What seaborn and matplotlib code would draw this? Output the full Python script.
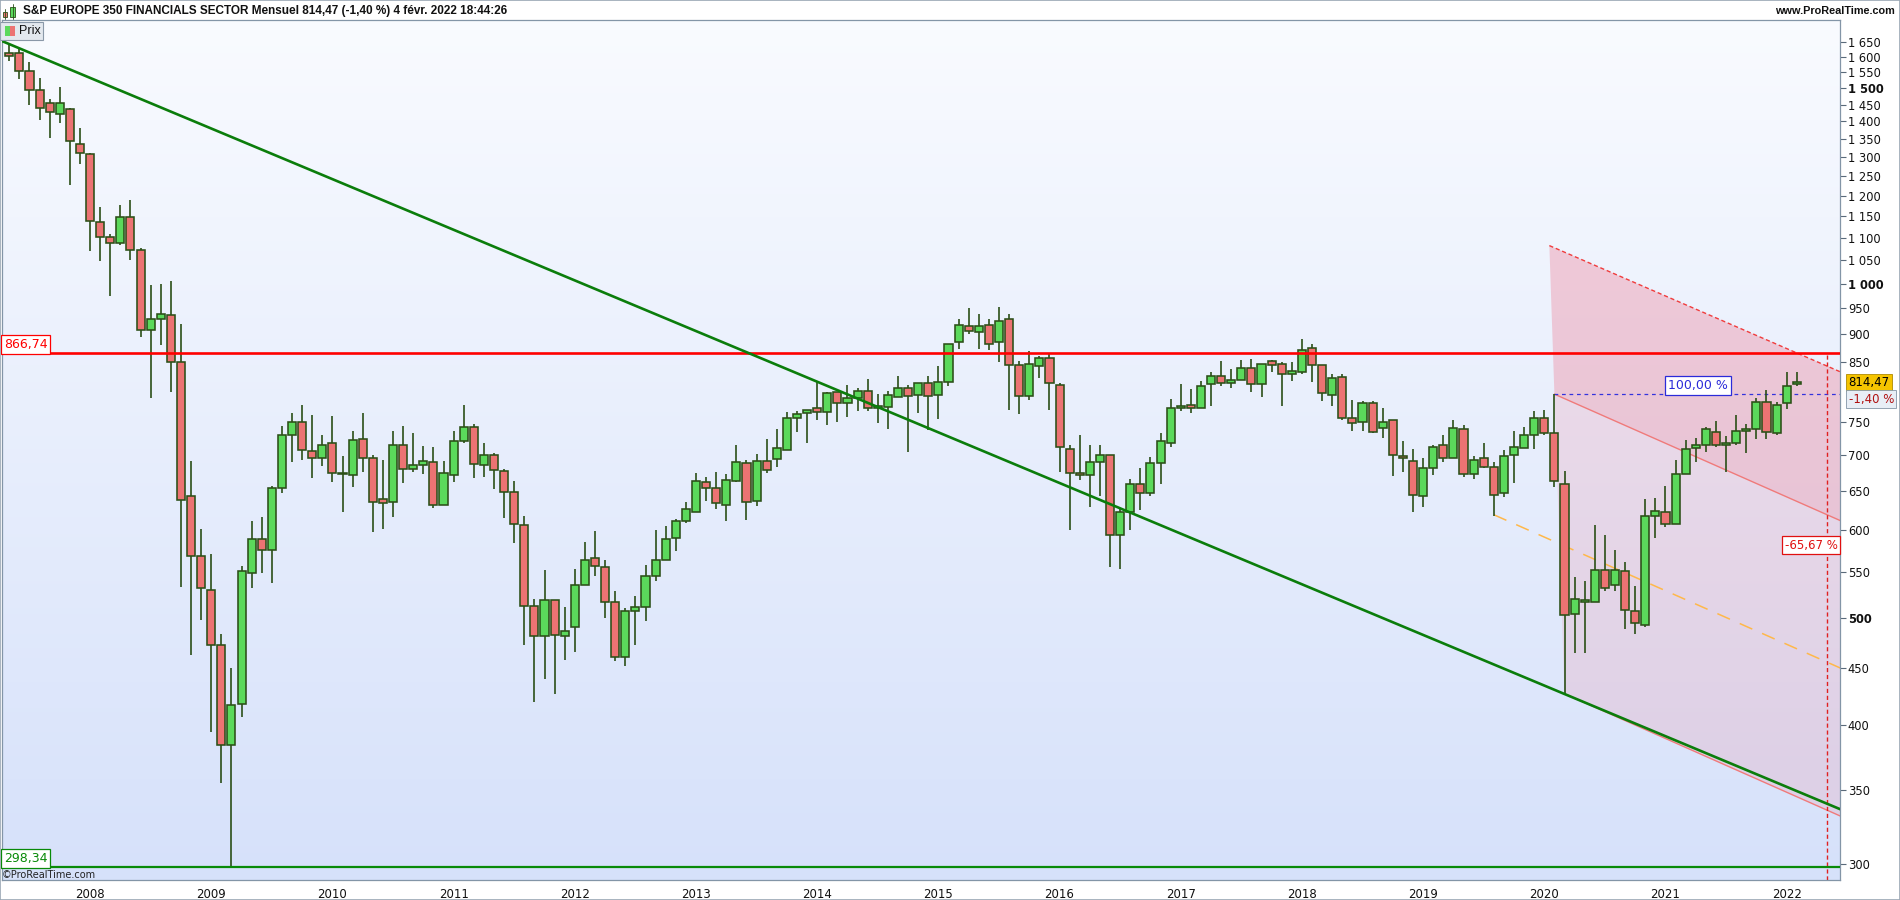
import numpy as np
import pandas as pd
import matplotlib
matplotlib.use("Agg")
import matplotlib.pyplot as plt
import matplotlib.ticker as mticker
import matplotlib.transforms as mtransforms
from matplotlib.patches import Rectangle
import seaborn as sns

# ── Data: monthly candles, May 2007 → Feb 2022 ─────────────────────────────
opens = [1612, 1612, 1556, 1495, 1454, 1421, 1438, 1337,
         1309, 1137, 1102, 1088, 1147, 1072, 909, 929, 936, 849, 643, 568,
         530, 472, 384, 418, 549, 589, 575, 654, 730, 750, 706, 696,
         719, 674, 672, 725, 697, 639, 636, 716, 681, 686, 691, 631,
         672, 721, 742, 686, 701, 678, 649, 606, 512, 481, 519, 481,
         490, 535, 566, 555, 517, 461, 507, 511, 545, 564, 590, 611,
         622, 662, 654, 632, 664, 689, 637, 692, 695, 708, 756, 764,
         772, 766, 799, 781, 788, 801, 772, 774, 790, 805, 794, 813,
         794, 816, 886, 915, 904, 917, 885, 930, 844, 792, 842, 857,
         810, 710, 675, 672, 691, 701, 594, 623, 660, 648, 689, 719,
         773, 778, 772, 812, 825, 813, 819, 839, 812, 851, 846, 829,
         832, 875, 845, 794, 824, 757, 751, 781, 741, 753, 699, 692,
         644, 682, 715, 696, 739, 673, 697, 684, 648, 701, 711, 730,
         757, 733, 660, 504, 517, 516, 552, 535, 551, 507, 492, 618,
         623, 607, 674, 711, 716, 735, 716, 719, 737, 740, 782, 733,
         781, 812]
highs = [1640, 1627, 1583, 1531, 1468, 1503, 1440, 1380,
         1312, 1173, 1108, 1177, 1190, 1076, 997, 999, 1006, 920, 692, 601,
         570, 483, 450, 556, 611, 616, 657, 744, 764, 777, 762, 730,
         759, 699, 737, 765, 701, 694, 737, 744, 734, 714, 712, 692,
         736, 777, 748, 719, 704, 681, 664, 617, 520, 552, 519, 511,
         553, 585, 598, 563, 528, 510, 523, 558, 600, 605, 614, 636,
         675, 670, 677, 673, 715, 694, 702, 724, 739, 766, 767, 769,
         815, 799, 799, 810, 805, 820, 795, 801, 825, 810, 813, 825,
         843, 883, 930, 950, 939, 930, 953, 939, 852, 869, 860, 864,
         813, 716, 731, 716, 715, 701, 628, 666, 682, 698, 734, 787,
         812, 804, 817, 833, 852, 838, 854, 856, 847, 854, 849, 849,
         892, 882, 845, 829, 829, 785, 783, 783, 772, 753, 721, 709,
         697, 716, 731, 754, 746, 699, 719, 691, 708, 736, 743, 767,
         769, 795, 678, 544, 540, 606, 594, 575, 561, 534, 640, 641,
         657, 694, 723, 726, 743, 752, 729, 761, 748, 788, 802, 782,
         833, 833]
lows = [1588, 1528, 1449, 1404, 1352, 1396, 1226, 1281,
        1069, 1048, 974, 1084, 1050, 895, 789, 880, 799, 533, 463, 498,
        394, 355, 298.34, 407, 532, 549, 537, 648, 691, 693, 668, 685,
        662, 622, 656, 677, 597, 601, 616, 661, 677, 674, 628, 631,
        662, 718, 668, 670, 653, 615, 584, 472, 420, 440, 427, 458,
        466, 535, 545, 500, 457, 452, 472, 497, 539, 563, 574, 609,
        622, 637, 626, 611, 662, 612, 630, 675, 683, 708, 735, 718,
        754, 745, 750, 758, 767, 767, 749, 740, 790, 705, 764, 738,
        755, 808, 873, 901, 873, 871, 849, 770, 763, 785, 822, 770,
        677, 600, 665, 629, 643, 555, 553, 600, 625, 644, 660, 713,
        767, 764, 772, 775, 808, 806, 819, 799, 791, 833, 775, 817,
        829, 816, 783, 776, 754, 736, 737, 734, 726, 671, 676, 622,
        629, 672, 690, 696, 670, 666, 682, 618, 642, 661, 711, 710,
        731, 656, 427, 465, 465, 516, 528, 528, 488, 483, 490, 590,
        604, 607, 674, 690, 705, 712, 676, 716, 703, 725, 725, 730,
        771, 809]
closes = [1605, 1556, 1495, 1441, 1427, 1454, 1343, 1310,
          1138, 1101, 1088, 1147, 1073, 909, 929, 938, 849, 638, 568, 532,
          472, 384, 417, 551, 589, 575, 654, 730, 750, 708, 696, 715,
          675, 673, 723, 697, 636, 634, 716, 681, 686, 692, 632, 675,
          721, 743, 688, 701, 679, 649, 607, 512, 481, 519, 482, 486,
          535, 564, 556, 517, 461, 507, 511, 545, 564, 589, 611, 627,
          664, 654, 634, 665, 691, 636, 692, 679, 711, 756, 763, 769,
          766, 797, 781, 788, 801, 772, 774, 793, 805, 792, 813, 792,
          815, 883, 917, 906, 915, 883, 926, 845, 792, 847, 857, 813,
          712, 675, 672, 691, 701, 594, 623, 660, 648, 689, 721, 772,
          776, 772, 808, 825, 813, 819, 839, 812, 847, 844, 829, 834,
          871, 845, 797, 822, 757, 749, 780, 735, 750, 700, 696, 645,
          682, 713, 696, 741, 673, 694, 684, 645, 699, 712, 730, 756,
          733, 664, 503, 520, 519, 552, 532, 552, 508, 494, 618, 624,
          607, 674, 709, 716, 739, 716, 719, 737, 740, 782, 735, 777,
          809, 814.47]

months = pd.period_range("2007-05", periods=len(closes), freq="M")
df = pd.DataFrame({"open": opens, "high": highs, "low": lows, "close": closes})
df["i"] = np.arange(len(df))

RES_LEVEL = 866.74
SUP_LEVEL = 298.34
LAST = 814.47
Y_TICKS = [300, 350, 400, 450, 500, 550, 600, 650, 700, 750, 850, 900, 950,
           1000, 1050, 1100, 1150, 1200, 1250, 1300, 1350, 1400, 1450, 1500,
           1550, 1600, 1650]
BOLD_TICKS = [500, 1000, 1500]

# drawn objects (month index, price)
trend_x, trend_y = [-0.72, 181.3], [1654, 336]
chan_top_x, chan_top_y = [152.5, 181.4], [1082, 832]
chan_mid_x, chan_mid_y = [153.0, 181.4], [795, 611]
chan_low_x, chan_low_y = [154.0, 181.4], [427, 331]
mid_dash_x, mid_dash_y = [147.0, 181.4], [619, 450]
proj_x = 180.0

# ── Style ─────────────────────────────────────────────────────────────────
sns.set_style("white")
plt.rcParams["font.family"] = ["DejaVu Sans"]

UP, DOWN, EDGE = "#5bd95b", "#ec7373", "#2b4f17"
X0, X1 = -0.72, 181.23
Y0, Y1 = 290.1, 1727.9

fig = plt.figure(figsize=(19, 9), dpi=100)
fig.patch.set_facecolor("white")
pos = [2 / 1900, 20 / 900, 1837.5 / 1900, 860 / 900]

# background gradient
bg = fig.add_axes(pos, zorder=0)
grad = np.linspace(0, 1, 256)[:, None]
top_c, bot_c = np.array([249, 251, 255]) / 255, np.array([214, 225, 250]) / 255
img = top_c[None, None, :] * (1 - grad[:, :, None]) + bot_c[None, None, :] * grad[:, :, None]
bg.imshow(img, aspect="auto", extent=[0, 1, 0, 1])
bg.axis("off")

ax = fig.add_axes(pos, zorder=1)
ax.patch.set_alpha(0)
ax.set_yscale("log")

# projection channel
ax.fill([chan_top_x[0], chan_top_x[1], chan_mid_x[1], chan_mid_x[0]],
        [chan_top_y[0], chan_top_y[1], chan_mid_y[1], chan_mid_y[0]],
        color="#ee8499", alpha=0.38, lw=0, zorder=1)
ax.fill([chan_mid_x[0], chan_mid_x[1], chan_low_x[1], chan_low_x[0]],
        [chan_mid_y[0], chan_mid_y[1], chan_low_y[1], chan_low_y[0]],
        color="#ee8499", alpha=0.20, lw=0, zorder=1)
sns.lineplot(x=chan_top_x, y=chan_top_y, ax=ax, color="#f03c3c", lw=1,
             linestyle=(0, (3, 2)), zorder=2)
sns.lineplot(x=chan_mid_x, y=chan_mid_y, ax=ax, color="#f07a7a", lw=1, zorder=2)
sns.lineplot(x=chan_low_x, y=chan_low_y, ax=ax, color="#f07a7a", lw=1, zorder=2)
sns.lineplot(x=mid_dash_x, y=mid_dash_y, ax=ax, color="#ffb84a", lw=1.1,
             linestyle=(0, (9, 7)), zorder=2)
ax.hlines(chan_mid_y[0], chan_mid_x[0], X1, colors="#3333dd", lw=0.9,
          linestyles=(0, (3, 3)), zorder=2)
ax.vlines(proj_x, Y0, RES_LEVEL, colors="#e02020", lw=1,
          linestyles=(0, (3, 2)), zorder=2)

# candles
up = df["close"] >= df["open"]
body_lo = df[["open", "close"]].min(axis=1)
body_hi = df[["open", "close"]].max(axis=1)
body_h = np.maximum(body_hi - body_lo, body_hi * 0.004)
ax.vlines(df["i"], df["low"], df["high"], colors=EDGE, lw=1.2, zorder=3)
ax.bar(df["i"], body_h, bottom=body_lo, width=0.8,
       color=np.where(up, UP, DOWN), edgecolor=EDGE, linewidth=1.15, zorder=4)

# levels and trend line
ax.axhline(RES_LEVEL, color="#ff0000", lw=1.9, zorder=5)
ax.axhline(SUP_LEVEL, color="#088a08", lw=1.6, zorder=5)
sns.lineplot(x=trend_x, y=trend_y, ax=ax, color="#0b7d0b", lw=1.9, zorder=5)

ax.set_xlim(X0, X1)
ax.set_ylim(Y0, Y1)
ax.set_xlabel("")
ax.set_ylabel("")

# y axis on right
ax.yaxis.tick_right()
ax.yaxis.set_major_locator(mticker.FixedLocator(Y_TICKS))
ax.yaxis.set_minor_locator(mticker.NullLocator())
ax.yaxis.set_major_formatter(mticker.FuncFormatter(
    lambda v, p: f"{int(round(v)):,}".replace(",", " ")))
ax.tick_params(axis="y", which="major", direction="out", length=4, width=0.8,
               color="#5a6a7a", pad=2, labelsize=8.3, labelcolor="#111111")
for t, v in zip(ax.get_yticklabels(), Y_TICKS):
    if v in BOLD_TICKS:
        t.set_fontweight("bold")

jan = [i for i, m in enumerate(months) if m.month == 1]
ax.set_xticks(jan)
ax.set_xticklabels([str(months[i].year) for i in jan])
ax.tick_params(axis="x", direction="out", length=3, width=0.8, color="#5a6a7a",
               pad=3, labelsize=8.5, labelcolor="#111111")
for s in ax.spines.values():
    s.set_color("#8395a7")
    s.set_linewidth(0.9)

# labels on the chart
trans = mtransforms.blended_transform_factory(ax.transAxes, ax.transData)
ax.text(0.001, RES_LEVEL * 1.003, "866,74", transform=trans, ha="left", va="bottom",
        fontsize=9, color="#ff0000", zorder=6,
        bbox=dict(boxstyle="square,pad=0.22", fc="white", ec="#ff0000", lw=0.9))
ax.text(0.001, SUP_LEVEL * 1.003, "298,34", transform=trans, ha="left", va="bottom",
        fontsize=9, color="#088a08", zorder=6,
        bbox=dict(boxstyle="square,pad=0.22", fc="white", ec="#088a08", lw=0.9))
ax.text(167.2, chan_mid_y[0] * 1.005, "100,00 %", ha="center", va="bottom",
        fontsize=9, color="#2b2bd9", zorder=6,
        bbox=dict(boxstyle="square,pad=0.25", fc="white", ec="#2b2bd9", lw=0.9))
ax.text(0.999, 581, "-65,67 %", transform=trans, ha="right", va="center",
        fontsize=8.5, color="#e01010", zorder=6,
        bbox=dict(boxstyle="square,pad=0.22", fc="white", ec="#e01010", lw=0.9))
ax.text(1.005, LAST, "814,47", transform=trans, ha="left", va="center",
        fontsize=8.5, color="black", zorder=6, clip_on=False,
        bbox=dict(boxstyle="square,pad=0.2", fc="#f5c400", ec="#b08a00", lw=0.6))
ax.text(1.005, 787, "-1,40 %", transform=trans, ha="left", va="center",
        fontsize=8.5, color="#b01010", zorder=6, clip_on=False,
        bbox=dict(boxstyle="square,pad=0.2", fc="#e8eef6", ec="#8395a7", lw=0.6))

fig.text(2 / 1900, 1 - 875 / 900, "©ProRealTime.com", fontsize=7,
         color="#222222", va="center", ha="left")

# header bar
hd = fig.add_axes([0, 1 - 20 / 900, 1, 20 / 900], zorder=2)
hgrad = np.linspace(0, 1, 64)[:, None, None]
h_top, h_bot = np.array([222, 233, 242]) / 255, np.array([178, 199, 216]) / 255
hd.imshow(h_top * (1 - hgrad) + h_bot * hgrad, aspect="auto", extent=[0, 1, 0, 1])
hd.set_xlim(0, 1900)
hd.set_ylim(20, 0)
hd.axis("off")
hd.add_patch(Rectangle((3.3, 12), 4, 5, fc=DOWN, ec=EDGE, lw=0.6))
hd.add_patch(Rectangle((10, 7), 5, 10, fc=UP, ec=EDGE, lw=0.6))
hd.plot([5.3, 5.3], [9, 19], color=EDGE, lw=0.6)
hd.plot([12.5, 12.5], [4, 19], color=EDGE, lw=0.6)
hd.text(23, 11, "S&P EUROPE 350 FINANCIALS SECTOR Mensuel 814,47 (-1,40 %) "
        "4 févr. 2022 18:44:26", fontsize=8.5, fontweight="bold",
        family="Liberation Sans", va="center", ha="left", color="#111111")
hd.text(1895, 11, "www.ProRealTime.com", fontsize=7.8, fontweight="bold",
        family="Liberation Sans", va="center", ha="right", color="#111111")

# "Prix" legend box
fig.patches.append(Rectangle((0, 1 - 40 / 900), 43 / 1900, 18 / 900,
                             transform=fig.transFigure, fc="#e3e8ee",
                             ec="#8a98a8", lw=0.8, zorder=3))
fig.patches.append(Rectangle((5 / 1900, 1 - 36 / 900), 5 / 1900, 10 / 900,
                             transform=fig.transFigure, fc=UP, ec="none", zorder=4))
fig.patches.append(Rectangle((10 / 1900, 1 - 36 / 900), 5 / 1900, 10 / 900,
                             transform=fig.transFigure, fc=DOWN, ec="none", zorder=4))
fig.text(19 / 1900, 1 - 31 / 900, "Prix", fontsize=9, va="center", ha="left",
         family="Liberation Sans", color="#111111", zorder=5)

# outer frame
fig.patches.append(Rectangle((0, 0), 1, 1, transform=fig.transFigure, fill=False,
                             ec="#9aa7b4", lw=1.2, zorder=10))

fig.savefig("out.png", dpi=100)
